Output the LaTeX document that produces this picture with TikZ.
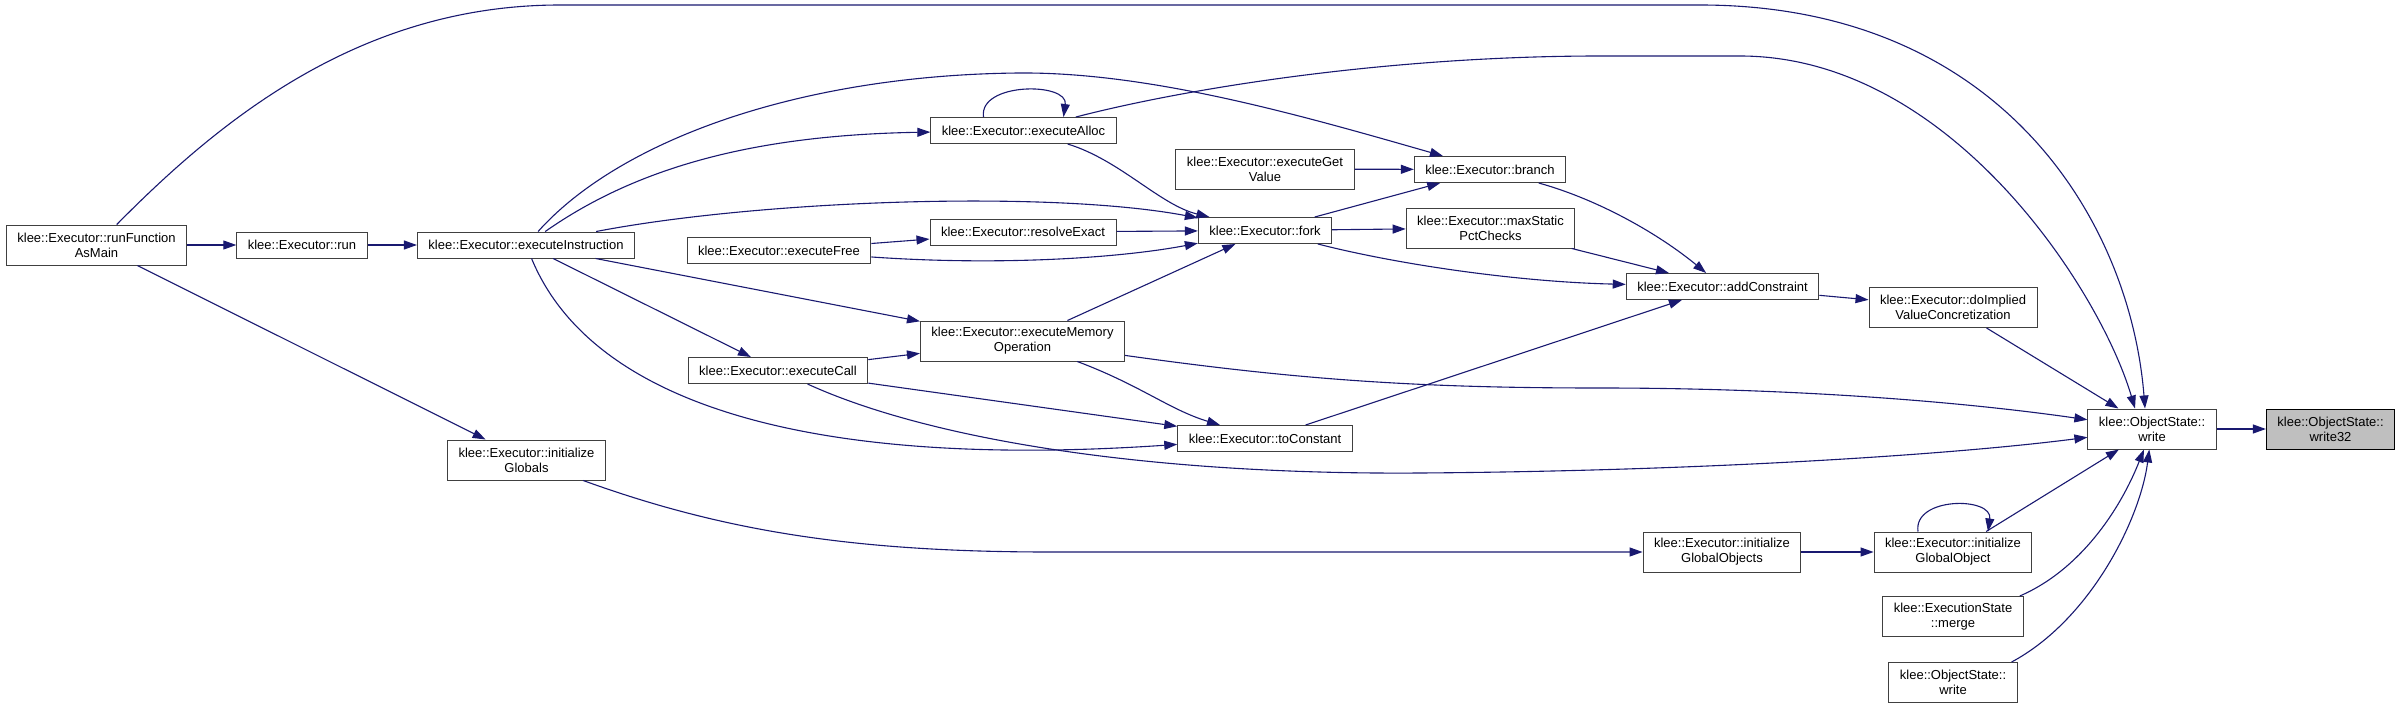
\documentclass[tikz,border=0pt]{standalone}
\usepackage{fontspec}
\setmainfont{Liberation Sans}
\usetikzlibrary{arrows.meta,positioning}
\definecolor{edgeblue}{RGB}{25,25,112}
\definecolor{boxgray}{RGB}{64,64,64}
\tikzset{
  callnode/.style={draw=boxgray,line width=1pt,fill=white,minimum height=26pt,inner xsep=11pt,inner ysep=2pt,align=center},
  twoline/.style={callnode,minimum height=40pt},
  rootnode/.style={twoline,draw=black,fill=black!25},
  call/.style={edgeblue,line width=1.1pt,-{Triangle[length=13pt,width=9pt]}}
}
\begin{document}
\begin{tikzpicture}[x=1pt,y=-1pt,every node/.style={font=\fontsize{13}{15}\selectfont}]
\useasboundingbox (0,0) rectangle (2401,709);
% functions
\node[twoline] (runMain) at (96.5,245) {klee::Executor::runFunction\\AsMain};
\node[callnode] (run) at (302,245) {klee::Executor::run};
\node[callnode] (execInstr) at (526,245) {klee::Executor::executeInstruction};
\node[twoline] (initGlobals) at (526.5,460) {klee::Executor::initialize\\Globals};
\node[callnode] (execFree) at (779,250.5) {klee::Executor::executeFree};
\node[callnode] (execCall) at (778,370.5) {klee::Executor::executeCall};
\node[callnode] (execAlloc) at (1023.5,130.5) {klee::Executor::executeAlloc};
\node[callnode] (resolveExact) at (1023,232) {klee::Executor::resolveExact};
\node[twoline] (execMem) at (1022.5,341) {klee::Executor::executeMemory\\Operation};
\node[twoline] (getValue) at (1265,169) {klee::Executor::executeGet\\Value};
\node[callnode] (fork) at (1265,230.5) {klee::Executor::fork};
\node[callnode] (toConst) at (1265,438.5) {klee::Executor::toConstant};
\node[callnode] (branch) at (1490,169.5) {klee::Executor::branch};
\node[twoline] (maxStatic) at (1490.5,228) {klee::Executor::maxStatic\\PctChecks};
\node[callnode] (addConstr) at (1722.5,286.5) {klee::Executor::addConstraint};
\node[twoline] (initObjects) at (1722,552) {klee::Executor::initialize\\GlobalObjects};
\node[twoline] (impliedValue) at (1953,307.5) {klee::Executor::doImplied\\ValueConcretization};
\node[twoline] (initObject) at (1953,552) {klee::Executor::initialize\\GlobalObject};
\node[twoline] (merge) at (1953,616.5) {klee::ExecutionState\\::merge};
\node[twoline] (osWriteB) at (1953,682.5) {klee::ObjectState::\\write};
\node[twoline] (osWrite) at (2152,429) {klee::ObjectState::\\write};
\node[rootnode] (write32) at (2330.5,429) {klee::ObjectState::\\write32};
% straight calls
\foreach \a/\b in {runMain/run,run/execInstr,runMain/initGlobals,execInstr/execMem,
  execInstr/execCall,execCall/execMem,execCall/toConst,execMem/fork,toConst/addConstr,
  initObjects/initObject,initObject/osWrite,osWrite/write32,impliedValue/osWrite,
  addConstr/impliedValue,maxStatic/addConstr,fork/branch,fork/maxStatic,
  resolveExact/fork,execFree/resolveExact,getValue/branch}
  \draw[call] (\a) -- (\b);
% curved calls
\draw[call] (runMain) .. controls (220,120) and (360,5) .. (560,5) -- (1700,5)
  .. controls (2000,5) and (2130,220) .. ([xshift=-7pt]osWrite.north);
\draw[call] (execAlloc) .. controls (1200,85) and (1400,56) .. (1600,56) -- (1740,56)
  .. controls (1950,56) and (2100,290) .. ([xshift=-17pt]osWrite.north);
\draw[call] (execInstr) .. controls (620,140) and (800,75) .. (1019,73)
  .. controls (1150,72) and (1300,115) .. (branch);
\draw[call] (execInstr) .. controls (640,165) and (760,135) .. (execAlloc);
\draw[call] (execInstr) .. controls (760,200) and (1050,190) .. (fork);
\draw[call] (execInstr) .. controls (590,400) and (800,470) .. (toConst);
\draw[call] (execCall) .. controls (930,440) and (1150,475) .. (1420,473)
  .. controls (1700,471) and (1950,455) .. (osWrite);
\draw[call] (execMem) .. controls (1300,380) and (1420,388) .. (1600,388)
  .. controls (1780,388) and (1950,400) .. (osWrite);
\draw[call] (execMem) .. controls (1140,385) and (1170,410) .. (toConst);
\draw[call] (execFree) .. controls (1000,266) and (1120,258) .. (fork);
\draw[call] (execAlloc) .. controls (1120,160) and (1160,205) .. (fork);
\draw[call] (fork) .. controls (1400,265) and (1520,282) .. (addConstr);
\draw[call] (branch) .. controls (1600,200) and (1660,235) .. (addConstr);
\draw[call] (initGlobals) .. controls (720,530) and (850,552) .. (1050,552) -- (initObjects);
\draw[call] ([xshift=-4pt]merge.north east) .. controls (2080,570) and (2120,510) .. (osWrite);
\draw[call] ([xshift=-6pt]osWriteB.north east) .. controls (2090,620) and (2140,520) .. (osWrite);
% recursion
\draw[call] ([xshift=-40pt]execAlloc.north) .. controls +(-5,-35) and +(5,-35) .. ([xshift=40pt]execAlloc.north);
\draw[call] ([xshift=-35pt]initObject.north) .. controls +(-5,-35) and +(5,-35) .. ([xshift=35pt]initObject.north);
\end{tikzpicture}
\end{document}
